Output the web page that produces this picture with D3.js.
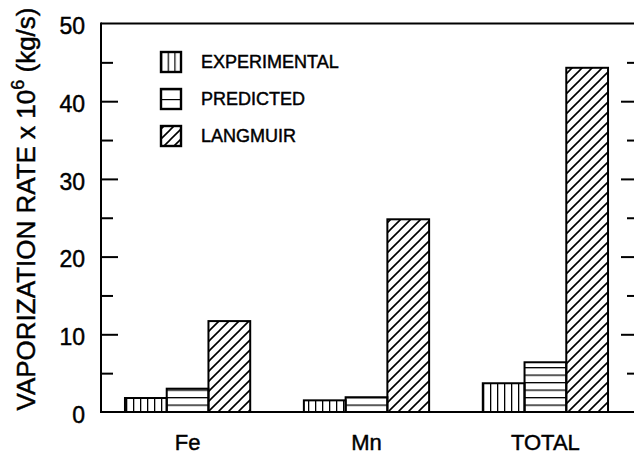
<!DOCTYPE html>
<html>
<head>
<meta charset="utf-8">
<script src="https://cdn.jsdelivr.net/npm/d3@7"></script>
<style>
  html, body { margin: 0; padding: 0; background: #fff; }
  svg { display: block; font-family: "Liberation Sans", Arial, Helvetica, sans-serif; }
  svg text { stroke: #000; stroke-width: 0.45px; paint-order: fill; }
</style>
</head>
<body>
<svg id="chart" width="634" height="457"></svg>
<script>
// ---- data ----
const categories = ["Fe", "Mn", "TOTAL"];
const seriesNames = ["EXPERIMENTAL", "PREDICTED", "LANGMUIR"];
const experimental = [1.8, 1.5, 3.7];
const predicted = [3.0, 1.9, 6.4];
const langmuir = [11.7, 24.8, 44.3];
const yMajorTicks = [0, 10, 20, 30, 40, 50];
const yMinorTicks = [5, 15, 25, 35, 45];
const yTitle = "VAPORIZATION RATE x 10";
const yTitleSup = "6";
const yTitleUnit = " (kg/s)";

(function () {
const seriesValues = [experimental, predicted, langmuir];
const patternIds = ["pat-vert", "pat-horz", "pat-diag"];

// ---- layout ----
const svg = d3.select("#chart");
const pLeft = 101, pRight = 634, pTop = 23.5, pBottom = 412;

const x0 = d3.scaleBand().domain(categories).range([pLeft, 632]).paddingInner(0.3).paddingOuter(0.134);
const x1 = d3.scaleBand().domain(seriesNames).range([0, x0.bandwidth()]).padding(0);
const y = d3.scaleLinear().domain([0, 50]).range([pBottom, pTop]);

// ---- patterns ----
const defs = svg.append("defs");
const pv = defs.append("pattern").attr("id", "pat-vert").attr("patternUnits", "userSpaceOnUse")
  .attr("width", 7).attr("height", 10).attr("x", 0);
pv.append("line").attr("x1", 0.5).attr("x2", 0.5).attr("y1", 0).attr("y2", 10)
  .attr("stroke", "#000").attr("stroke-width", 1.6);

const ph = defs.append("pattern").attr("id", "pat-horz").attr("patternUnits", "userSpaceOnUse")
  .attr("width", 10).attr("height", 7.5).attr("y", pBottom % 7.5);
ph.append("line").attr("x1", 0).attr("x2", 10).attr("y1", 0.5).attr("y2", 0.5)
  .attr("stroke", "#000").attr("stroke-width", 1.6);

const pd = defs.append("pattern").attr("id", "pat-diag").attr("patternUnits", "userSpaceOnUse")
  .attr("width", 10).attr("height", 10);
pd.append("path").attr("d", "M-1,1 l2,-2 M0,10 l10,-10 M9,11 l2,-2")
  .attr("stroke", "#000").attr("stroke-width", 1.6).attr("fill", "none");

// legend-specific patterns aligned to box
const lv = defs.append("pattern").attr("id", "leg-vert").attr("patternUnits", "objectBoundingBox")
  .attr("width", 1/3).attr("height", 1);
lv.append("line").attr("x1", 0).attr("x2", 0).attr("y1", 0).attr("y2", 30)
  .attr("stroke", "#000").attr("stroke-width", 2.4);
const lh = defs.append("pattern").attr("id", "leg-horz").attr("patternUnits", "objectBoundingBox")
  .attr("width", 1).attr("height", 1/2);
lh.append("line").attr("x1", 0).attr("x2", 30).attr("y1", 0).attr("y2", 0)
  .attr("stroke", "#000").attr("stroke-width", 2.4);
const legendPatterns = ["leg-vert", "leg-horz", "pat-diag"];

// ---- bars ----
const barData = [];
categories.forEach((c, ci) => {
  seriesNames.forEach((s, si) => {
    barData.push({ cat: c, series: s, si: si, value: seriesValues[si][ci] });
  });
});

svg.append("g").selectAll("rect").data(barData).join("rect")
  .attr("x", d => x0(d.cat) + x1(d.series))
  .attr("y", d => y(d.value))
  .attr("width", x1.bandwidth())
  .attr("height", d => y(0) - y(d.value))
  .attr("fill", d => `url(#${patternIds[d.si]})`)
  .attr("stroke", "#000")
  .attr("stroke-width", 2);

// ---- frame ----
const frame = svg.append("g").attr("stroke", "#000").attr("stroke-width", 2).attr("fill", "none");
frame.append("line").attr("x1", pLeft).attr("x2", pRight + 2).attr("y1", y(50)).attr("y2", y(50));
frame.append("line").attr("x1", pLeft).attr("x2", pRight + 2).attr("y1", y(0)).attr("y2", y(0));
frame.append("line").attr("x1", pLeft).attr("x2", pLeft).attr("y1", y(50) - 1).attr("y2", y(0) + 1);
frame.append("line").attr("x1", pRight + 2).attr("x2", pRight + 2).attr("y1", y(50)).attr("y2", y(0));

// ---- left ticks (inward) ----
function styleAxis(g) {
  g.select(".domain").remove();
  g.selectAll(".tick line").attr("stroke", "#000").attr("stroke-width", 2);
}
svg.append("g").attr("transform", `translate(${pLeft},0)`)
  .call(d3.axisRight(y).tickValues(yMajorTicks.slice(1, -1)).tickSize(17).tickFormat(""))
  .call(styleAxis);
svg.append("g").attr("transform", `translate(${pLeft},0)`)
  .call(d3.axisRight(y).tickValues(yMinorTicks).tickSize(12).tickFormat(""))
  .call(styleAxis);

// ---- right ticks (inward) ----
svg.append("g").attr("transform", `translate(${pRight},0)`)
  .call(d3.axisLeft(y).tickValues(yMajorTicks.slice(1, -1)).tickSize(13).tickFormat(""))
  .call(styleAxis);
svg.append("g").attr("transform", `translate(${pRight},0)`)
  .call(d3.axisLeft(y).tickValues(yMinorTicks).tickSize(7).tickFormat(""))
  .call(styleAxis);

// ---- y tick labels ----
const yl = svg.append("g").attr("transform", `translate(${pLeft},0)`)
  .call(d3.axisLeft(y).tickValues(yMajorTicks).tickSize(0).tickPadding(16).tickFormat(d3.format("d")));
yl.select(".domain").remove();
yl.selectAll("text").attr("font-size", 23).attr("fill", "#000")
  .attr("font-family", "'Liberation Sans', Arial, sans-serif").attr("dy", "0.45em");

// ---- x labels ----
const xl = svg.append("g").attr("transform", `translate(0,${pBottom})`)
  .call(d3.axisBottom(x0).tickSize(0).tickPadding(22));
xl.select(".domain").remove();
xl.selectAll("text").attr("font-size", 22).attr("fill", "#000")
  .attr("font-family", "'Liberation Sans', Arial, sans-serif");

// ---- y title ----
const t = svg.append("text")
  .attr("transform", `translate(35,209) rotate(-90)`)
  .attr("text-anchor", "middle")
  .attr("font-size", 26)
  .attr("fill", "#000");
t.append("tspan").text(yTitle);
t.append("tspan").text(yTitleSup).attr("font-size", 18).attr("dy", -11);
t.append("tspan").text(yTitleUnit).attr("dy", 11);

// ---- legend ----
const legend = svg.append("g");
const rowY = [62, 99, 136];
seriesNames.forEach((s, i) => {
  legend.append("rect").attr("x", 161).attr("y", rowY[i] - 10).attr("width", 20).attr("height", 20)
    .attr("fill", `url(#${legendPatterns[i]})`).attr("stroke", "#000").attr("stroke-width", 2.4);
  legend.append("text").attr("x", 201).attr("y", rowY[i]).attr("dy", "0.36em")
    .attr("font-size", 18).attr("fill", "#000").text(s);
});
})();
</script>
</body>
</html>
